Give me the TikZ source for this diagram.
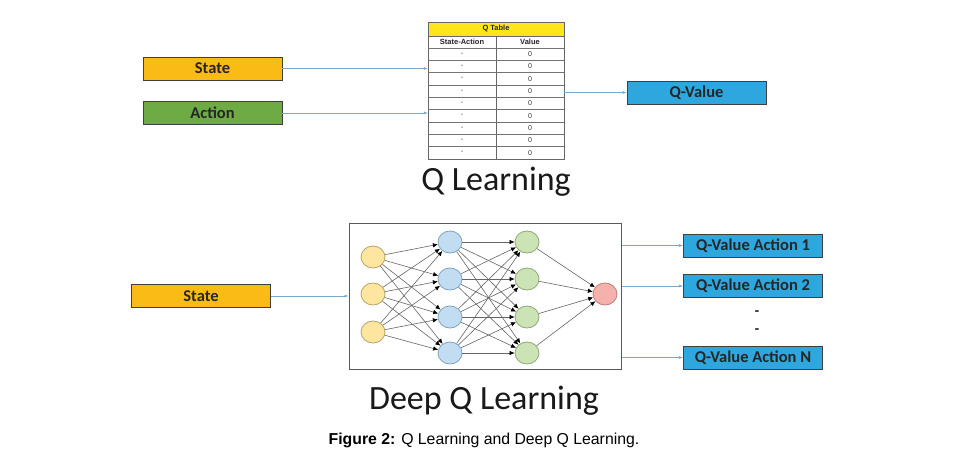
\documentclass[tikz,border=0pt]{standalone}
\usepackage{fontspec}
\setmainfont{Carlito}
\newfontfamily\capfont{Liberation Sans}
\usetikzlibrary{arrows.meta,shapes.geometric}
\definecolor{qorange}{HTML}{FBBB16}
\definecolor{qgreen}{HTML}{6EAB45}
\definecolor{qblue}{HTML}{2EA6DE}
\definecolor{qborder}{HTML}{3F3F3F}
\definecolor{qarrow}{HTML}{78A8CC}
\definecolor{qyellow}{HTML}{FFE61A}
\definecolor{nyellow}{HTML}{FFE6A0}
\definecolor{nyellowb}{HTML}{B8A268}
\definecolor{nblue}{HTML}{C2DDF2}
\definecolor{nblueb}{HTML}{7FA3BF}
\definecolor{ngreen}{HTML}{CBE3B5}
\definecolor{ngreenb}{HTML}{8DAA78}
\definecolor{npink}{HTML}{F5B1AB}
\definecolor{npinkb}{HTML}{C07E78}
\tikzset{
  qbox/.style={draw=qborder,line width=0.9pt,minimum width=139pt,minimum height=23pt,inner sep=0pt,font=\fontsize{16.5}{18}\selectfont\bfseries,text=black!85},
  barrow/.style={draw=qarrow,line width=0.6pt,-{Latex[length=4pt,width=3pt]}},
  neuron/.style={ellipse,draw,line width=0.8pt,minimum width=24pt,minimum height=22pt,inner sep=0pt},
  nedge/.style={draw=black!60,line width=0.6pt,-{Latex[length=5pt,width=4.5pt,color=black]}},
  celltxt/.style={font=\capfont\fontsize{7}{8}\selectfont,text=black!80,inner sep=0pt},
  hdrtxt/.style={font=\capfont\fontsize{7.5}{8}\selectfont\bfseries,text=black!85,inner sep=0pt}
}
\begin{document}
\begin{tikzpicture}[x=1pt,y=-1pt]
\useasboundingbox[fill=white] (0,0) rectangle (961,461);

% ---------- Q Learning ----------
\node[qbox,fill=qorange] (state1) at (212.5,68.5) {State};
\node[qbox,fill=qgreen] (action) at (212.5,113) {Action};

% Q table
\node[minimum width=136pt,minimum height=137pt,inner sep=0pt] (qtable) at (496,90.5) {};
\fill[qyellow] (428,22) rectangle (564,36);
\draw[black!60,line width=0.8pt] (428,22) rectangle (564,159);
\draw[black!60,line width=0.6pt] (428,36) -- (564,36);
\draw[black!60,line width=0.6pt] (496,36) -- (496,159);
\foreach \i in {0,...,8} {
  \draw[black!55,line width=0.5pt] (428,{48+12.333*\i}) -- (564,{48+12.333*\i});
}
\node[hdrtxt] (qtt) at (496,29) {Q Table};
\node[hdrtxt] (hsa) at (462,42) {State-Action};
\node[hdrtxt] (hv) at (530,42) {Value};
\foreach \i in {0,...,8} {
  \node[celltxt] (d\i) at (462,{54.2+12.333*\i}) {-};
  \node[celltxt] (z\i) at (530,{54.2+12.333*\i}) {0};
}

\node[qbox,fill=qblue] (qval) at (696.5,92.5) {Q-Value};

\draw[barrow] (state1.east) -- (state1.east -| qtable.west);
\draw[barrow] (action.east) -- (action.east -| qtable.west);
\draw[barrow] (qval.west -| qtable.east) -- (qval.west);

\node[font=\fontsize{34}{38}\selectfont,text=black!90] (qlt) at (496,182) {Q Learning};

% ---------- Deep Q Learning ----------
\node[draw=black!65,line width=1pt,minimum width=272pt,minimum height=146pt,inner sep=0pt] (nn) at (485,296) {};
\node[qbox,fill=qorange] (state2) at (201,296) {State};
\draw[barrow] (state2.east) -- (state2.east -| nn.west);

\foreach \y [count=\k] in {257,294,332} {
  \node[neuron,fill=nyellow,draw=nyellowb] (i\k) at (373,\y) {};
}
\foreach \y [count=\k] in {242,279,317,353} {
  \node[neuron,fill=nblue,draw=nblueb] (h\k) at (450,\y) {};
  \node[neuron,fill=ngreen,draw=ngreenb] (g\k) at (527,\y) {};
}
\node[neuron,fill=npink,draw=npinkb] (o) at (605,294) {};

\foreach \a in {1,2,3} { \foreach \b in {1,2,3,4} { \draw[nedge] (i\a) -- (h\b); } }
\foreach \a in {1,2,3,4} { \foreach \b in {1,2,3,4} { \draw[nedge] (h\a) -- (g\b); } }
\foreach \a in {1,2,3,4} { \draw[nedge] (g\a) -- (o); }

\node[qbox,fill=qblue] (qa1) at (753,245.5) {Q-Value Action 1};
\node[qbox,fill=qblue] (qa2) at (753,286) {Q-Value Action 2};
\node[qbox,fill=qblue] (qan) at (753,357.5) {Q-Value Action N};
\node[font=\fontsize{14}{15}\selectfont\bfseries] (dot1) at (757,313) {-};
\node[font=\fontsize{14}{15}\selectfont\bfseries] (dot2) at (757,331) {-};

\draw[barrow] (qa1.west -| nn.east) -- (qa1.west);
\draw[barrow] (qa2.west -| nn.east) -- (qa2.west);
\draw[barrow] (qan.west -| nn.east) -- (qan.west);

\node[font=\fontsize{34}{38}\selectfont,text=black!90] (dqlt) at (484,401) {Deep Q Learning};

\node[font=\capfont\fontsize{15.8}{18}\selectfont] (cap) at (484,440) {\textbf{Figure 2:} Q Learning and Deep Q Learning.};
\end{tikzpicture}
\end{document}
